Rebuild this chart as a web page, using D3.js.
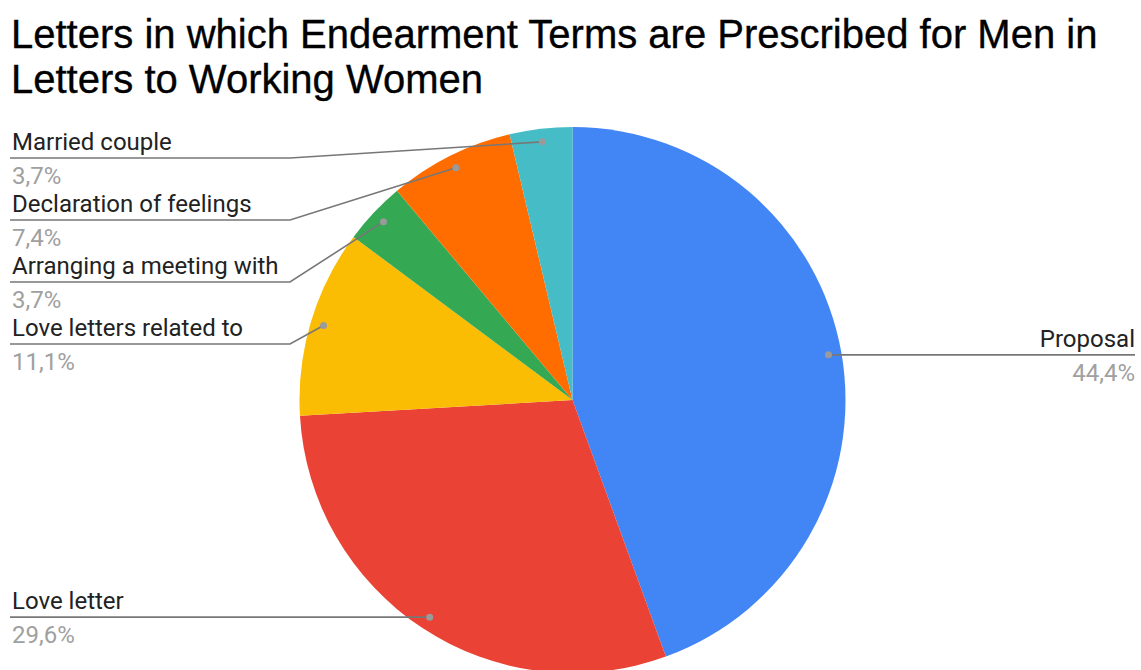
<!DOCTYPE html>
<html>
<head>
<meta charset="utf-8">
<script src="https://cdn.jsdelivr.net/npm/d3@7"></script>
<style>
  html, body { margin: 0; padding: 0; background: #fff; }
  svg { display: block; }
</style>
</head>
<body>
<svg id="chart" width="1141" height="670"></svg>
<script>
// Letter categories, clockwise from 12 o'clock
const categories = [
  "Proposal",
  "Love letter",
  "Love letters related to",
  "Arranging a meeting with",
  "Declaration of feelings",
  "Married couple"
];
// Number of letters per category (27 in total)
const counts = [12, 8, 3, 1, 2, 1];
const sliceColors = ["#4285F4", "#EA4335", "#FBBC04", "#34A853", "#FF6D01", "#46BDC6"];
const titleLines = [
  "Letters in which Endearment Terms are Prescribed for Men in",
  "Letters to Working Women"
];

const W = 1141, H = 670;
const cx = 572.5, cy = 400, R = 273;
const svg = d3.select("#chart");

// Title
svg.append("text")
  .attr("font-family", "'Liberation Sans', Arial, sans-serif")
  .attr("font-size", 40)
  .attr("fill", "#000")
  .attr("stroke", "#000")
  .attr("stroke-width", 0.35)
  .selectAll("tspan")
  .data(titleLines)
  .join("tspan")
  .attr("x", 11)
  .attr("y", (d, i) => 48 + i * 45)
  .text(d => d);

const total = d3.sum(counts);
const rows = categories.map((c, i) => ({ name: c, value: counts[i], color: sliceColors[i] }));

const pie = d3.pie().value(d => d.value).sort(null);
const arcs = pie(rows);
const arc = d3.arc().innerRadius(0).outerRadius(R);

const g = svg.append("g").attr("transform", `translate(${cx},${cy})`);
g.selectAll("path.slice")
  .data(arcs)
  .join("path")
  .attr("class", "slice")
  .attr("d", arc)
  .attr("fill", d => d.data.color);

// Anchor point for each leader line, just inside the rim
const dotArc = d3.arc().innerRadius(R * 0.952).outerRadius(R * 0.952);
const fmt = v => (v / total * 100).toFixed(1).replace(".", ",") + "%";

const labels = arcs.map(a => {
  const [x, y] = dotArc.centroid(a);
  return { a, dx: cx + x, dy: cy + y, right: x > 0 };
});

// Stack left-hand labels so they keep a fixed vertical gap
const gap = 62, topLimit = 158;
const left = labels.filter(l => !l.right).sort((p, q) => p.dy - q.dy);
let prev = -Infinity;
left.forEach(l => {
  l.ly = Math.max(l.dy, topLimit, prev + gap);
  prev = l.ly;
});
labels.filter(l => l.right).forEach(l => { l.ly = l.dy; });

const elbowX = 290;
const lab = svg.append("g");
labels.forEach(l => {
  const pts = l.right
    ? [[l.dx, l.dy], [1135, l.ly]]
    : (Math.abs(l.ly - l.dy) < 1
        ? [[l.dx, l.dy], [10, l.ly]]
        : [[l.dx, l.dy], [elbowX, l.ly], [10, l.ly]]);
  lab.append("path")
    .attr("d", d3.line()(pts))
    .attr("fill", "none")
    .attr("stroke", "#777")
    .attr("stroke-width", 1.6);
  lab.append("circle")
    .attr("cx", l.dx).attr("cy", l.dy).attr("r", 3.5)
    .attr("fill", "#9a9a9a");
  const tx = l.right ? 1135 : 12;
  const anchor = l.right ? "end" : "start";
  lab.append("text")
    .attr("x", tx).attr("y", l.ly - 8)
    .attr("text-anchor", anchor)
    .attr("font-family", "Roboto, 'Liberation Sans', sans-serif")
    .attr("font-size", 24)
    .attr("fill", "#222")
    .text(l.a.data.name);
  lab.append("text")
    .attr("x", tx).attr("y", l.ly + 26)
    .attr("text-anchor", anchor)
    .attr("font-family", "Roboto, 'Liberation Sans', sans-serif")
    .attr("font-size", 24)
    .attr("fill", "#a0a0a0")
    .text(fmt(l.a.data.value));
});
</script>
</body>
</html>
